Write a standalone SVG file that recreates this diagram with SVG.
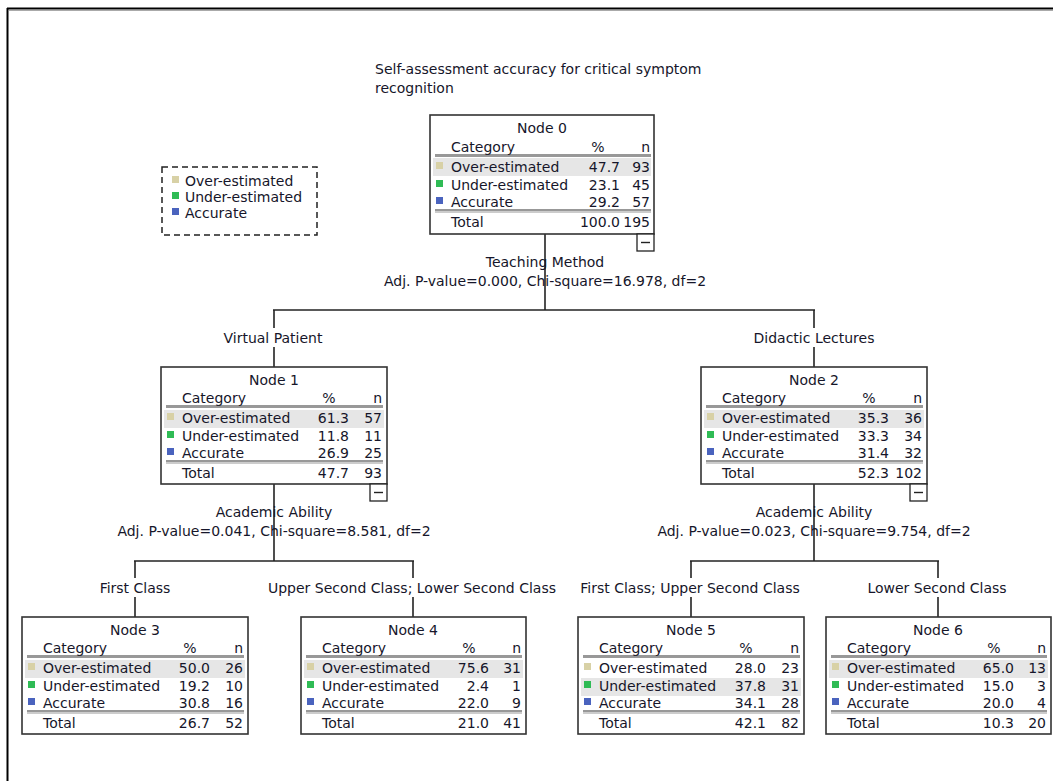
<svg xmlns="http://www.w3.org/2000/svg" width="1053" height="781" viewBox="0 0 1053 781">
<defs>
<style>
text{font-family:"DejaVu Sans","Liberation Sans",sans-serif;font-size:14px;fill:#16162a}
.box{fill:#fff;stroke:#333;stroke-width:1.6}
.hl{fill:#e6e6e6}
.hdr{stroke:#333;stroke-width:1.2}
.hdr2{stroke:#999;stroke-width:1}
.c{text-anchor:middle}
.r{text-anchor:end}
.ov{fill:#d8d1a6}
.un{fill:#2fbb55}
.ac{fill:#4a63be}
.con{stroke:#222;stroke-width:1.6;fill:none}
.lbg{fill:#fff}
.minus{fill:#fff;stroke:#222;stroke-width:1.3}
</style>
</defs>
<g id="frame">
<line x1="7" y1="8.5" x2="1053" y2="8.5" stroke="#000" stroke-width="2"/>
<line x1="9" y1="10.5" x2="1053" y2="10.5" stroke="#aaa" stroke-width="1"/>
<line x1="7.5" y1="8" x2="7.5" y2="781" stroke="#000" stroke-width="2"/>
</g>
<g id="title">
<text x="375" y="74">Self-assessment accuracy for critical symptom</text>
<text x="375" y="93">recognition</text>
</g>
<g id="legend">
<rect x="162" y="167" width="155" height="68" fill="#fff" stroke="#222" stroke-width="1.5" stroke-dasharray="6,4"/>
<rect class="ov" x="172" y="176" width="7" height="7"/><text x="185" y="186">Over-estimated</text>
<rect class="un" x="172" y="192" width="7" height="7"/><text x="185" y="202">Under-estimated</text>
<rect class="ac" x="172" y="208" width="7" height="7"/><text x="185" y="218">Accurate</text>
</g>
<g id="connectors">
<line class="con" x1="545" y1="234" x2="545" y2="310"/>
<line class="con" x1="273" y1="310" x2="815" y2="310"/>
<line class="con" x1="274" y1="310" x2="274" y2="367"/>
<line class="con" x1="814" y1="310" x2="814" y2="367"/>
<line class="con" x1="274" y1="484" x2="274" y2="561"/>
<line class="con" x1="134" y1="561" x2="414" y2="561"/>
<line class="con" x1="135" y1="561" x2="135" y2="617"/>
<line class="con" x1="413" y1="561" x2="413" y2="617"/>
<line class="con" x1="814" y1="484" x2="814" y2="561"/>
<line class="con" x1="690" y1="561" x2="939" y2="561"/>
<line class="con" x1="691" y1="561" x2="691" y2="617"/>
<line class="con" x1="938" y1="561" x2="938" y2="617"/>
<text class="c" x="545" y="267">Teaching Method</text>
<text class="c" x="545" y="286">Adj. P-value=0.000, Chi-square=16.978, df=2</text>
<rect class="lbg" x="218" y="328" width="110" height="19"/>
<text class="c" x="273" y="343">Virtual Patient</text>
<rect class="lbg" x="751" y="328" width="127" height="19"/>
<text class="c" x="814" y="343">Didactic Lectures</text>
<text class="c" x="274" y="517">Academic Ability</text>
<text class="c" x="274" y="536">Adj. P-value=0.041, Chi-square=8.581, df=2</text>
<text class="c" x="814" y="517">Academic Ability</text>
<text class="c" x="814" y="536">Adj. P-value=0.023, Chi-square=9.754, df=2</text>
<rect class="lbg" x="95" y="578" width="80" height="19"/>
<text class="c" x="135" y="593">First Class</text>
<rect class="lbg" x="266" y="578" width="292" height="19"/>
<text class="c" x="412" y="593">Upper Second Class; Lower Second Class</text>
<rect class="lbg" x="577" y="578" width="226" height="19"/>
<text class="c" x="690" y="593">First Class; Upper Second Class</text>
<rect class="lbg" x="865" y="578" width="145" height="19"/>
<text class="c" x="937" y="593">Lower Second Class</text>
</g>
<g id="node0" transform="translate(430,115)">
<rect class="box" x="0" y="0" width="224" height="119"/>
<rect class="hl" x="3" y="43" width="218" height="18"/>
<text class="c" x="112" y="18">Node 0</text>
<text x="21" y="37">Category</text><text class="c" x="168" y="37">%</text><text class="r" x="220" y="37">n</text>
<line class="hdr" x1="5" y1="40" x2="221" y2="40"/><line class="hdr2" x1="5" y1="41.5" x2="221" y2="41.5"/>
<rect class="ov" x="6" y="47" width="7" height="7"/><text x="21" y="57">Over-estimated</text><text class="r" x="190" y="57">47.7</text><text class="r" x="220" y="57">93</text>
<rect class="un" x="6" y="65" width="7" height="7"/><text x="21" y="75">Under-estimated</text><text class="r" x="190" y="75">23.1</text><text class="r" x="220" y="75">45</text>
<rect class="ac" x="6" y="82" width="7" height="7"/><text x="21" y="92">Accurate</text><text class="r" x="190" y="92">29.2</text><text class="r" x="220" y="92">57</text>
<line class="hdr" x1="5" y1="95" x2="221" y2="95"/><line class="hdr2" x1="5" y1="97" x2="221" y2="97"/>
<text x="21" y="112">Total</text><text class="r" x="190" y="112">100.0</text><text class="r" x="220" y="112">195</text>
<rect class="minus" x="207" y="119" width="17" height="17"/><line x1="211" y1="127.5" x2="220" y2="127.5" stroke="#222" stroke-width="1.4"/>
</g>
<g id="node1" transform="translate(161,367)">
<rect class="box" x="0" y="0" width="226" height="117"/>
<rect class="hl" x="3" y="43" width="220" height="18"/>
<text class="c" x="113" y="18">Node 1</text>
<text x="21" y="36">Category</text><text class="c" x="168" y="36">%</text><text class="r" x="221" y="36">n</text>
<line class="hdr" x1="5" y1="39" x2="222" y2="39"/><line class="hdr2" x1="5" y1="40.5" x2="222" y2="40.5"/>
<rect class="ov" x="6" y="46" width="7" height="7"/><text x="21" y="56">Over-estimated</text><text class="r" x="188" y="56">61.3</text><text class="r" x="221" y="56">57</text>
<rect class="un" x="6" y="64" width="7" height="7"/><text x="21" y="74">Under-estimated</text><text class="r" x="188" y="74">11.8</text><text class="r" x="221" y="74">11</text>
<rect class="ac" x="6" y="81" width="7" height="7"/><text x="21" y="91">Accurate</text><text class="r" x="188" y="91">26.9</text><text class="r" x="221" y="91">25</text>
<line class="hdr" x1="5" y1="94" x2="222" y2="94"/><line class="hdr2" x1="5" y1="96" x2="222" y2="96"/>
<text x="21" y="111">Total</text><text class="r" x="188" y="111">47.7</text><text class="r" x="221" y="111">93</text>
<rect class="minus" x="209" y="117" width="17" height="17"/><line x1="213" y1="125.5" x2="222" y2="125.5" stroke="#222" stroke-width="1.4"/>
</g>
<g id="node2" transform="translate(701,367)">
<rect class="box" x="0" y="0" width="226" height="117"/>
<rect class="hl" x="3" y="43" width="220" height="18"/>
<text class="c" x="113" y="18">Node 2</text>
<text x="21" y="36">Category</text><text class="c" x="168" y="36">%</text><text class="r" x="221" y="36">n</text>
<line class="hdr" x1="5" y1="39" x2="222" y2="39"/><line class="hdr2" x1="5" y1="40.5" x2="222" y2="40.5"/>
<rect class="ov" x="6" y="46" width="7" height="7"/><text x="21" y="56">Over-estimated</text><text class="r" x="188" y="56">35.3</text><text class="r" x="221" y="56">36</text>
<rect class="un" x="6" y="64" width="7" height="7"/><text x="21" y="74">Under-estimated</text><text class="r" x="188" y="74">33.3</text><text class="r" x="221" y="74">34</text>
<rect class="ac" x="6" y="81" width="7" height="7"/><text x="21" y="91">Accurate</text><text class="r" x="188" y="91">31.4</text><text class="r" x="221" y="91">32</text>
<line class="hdr" x1="5" y1="94" x2="222" y2="94"/><line class="hdr2" x1="5" y1="96" x2="222" y2="96"/>
<text x="21" y="111">Total</text><text class="r" x="188" y="111">52.3</text><text class="r" x="221" y="111">102</text>
<rect class="minus" x="209" y="117" width="17" height="17"/><line x1="213" y1="125.5" x2="222" y2="125.5" stroke="#222" stroke-width="1.4"/>
</g>
<g id="node3" transform="translate(22,617)">
<rect class="box" x="0" y="0" width="226" height="117"/>
<rect class="hl" x="3" y="43" width="220" height="18"/>
<text class="c" x="113" y="18">Node 3</text>
<text x="21" y="36">Category</text><text class="c" x="168" y="36">%</text><text class="r" x="221" y="36">n</text>
<line class="hdr" x1="5" y1="39" x2="222" y2="39"/><line class="hdr2" x1="5" y1="40.5" x2="222" y2="40.5"/>
<rect class="ov" x="6" y="46" width="7" height="7"/><text x="21" y="56">Over-estimated</text><text class="r" x="188" y="56">50.0</text><text class="r" x="221" y="56">26</text>
<rect class="un" x="6" y="64" width="7" height="7"/><text x="21" y="74">Under-estimated</text><text class="r" x="188" y="74">19.2</text><text class="r" x="221" y="74">10</text>
<rect class="ac" x="6" y="81" width="7" height="7"/><text x="21" y="91">Accurate</text><text class="r" x="188" y="91">30.8</text><text class="r" x="221" y="91">16</text>
<line class="hdr" x1="5" y1="94" x2="222" y2="94"/><line class="hdr2" x1="5" y1="96" x2="222" y2="96"/>
<text x="21" y="111">Total</text><text class="r" x="188" y="111">26.7</text><text class="r" x="221" y="111">52</text>
</g>
<g id="node4" transform="translate(301,617)">
<rect class="box" x="0" y="0" width="225" height="117"/>
<rect class="hl" x="3" y="43" width="219" height="18"/>
<text class="c" x="112" y="18">Node 4</text>
<text x="21" y="36">Category</text><text class="c" x="168" y="36">%</text><text class="r" x="220" y="36">n</text>
<line class="hdr" x1="5" y1="39" x2="221" y2="39"/><line class="hdr2" x1="5" y1="40.5" x2="221" y2="40.5"/>
<rect class="ov" x="6" y="46" width="7" height="7"/><text x="21" y="56">Over-estimated</text><text class="r" x="188" y="56">75.6</text><text class="r" x="220" y="56">31</text>
<rect class="un" x="6" y="64" width="7" height="7"/><text x="21" y="74">Under-estimated</text><text class="r" x="188" y="74">2.4</text><text class="r" x="220" y="74">1</text>
<rect class="ac" x="6" y="81" width="7" height="7"/><text x="21" y="91">Accurate</text><text class="r" x="188" y="91">22.0</text><text class="r" x="220" y="91">9</text>
<line class="hdr" x1="5" y1="94" x2="221" y2="94"/><line class="hdr2" x1="5" y1="96" x2="221" y2="96"/>
<text x="21" y="111">Total</text><text class="r" x="188" y="111">21.0</text><text class="r" x="220" y="111">41</text>
</g>
<g id="node5" transform="translate(578,617)">
<rect class="box" x="0" y="0" width="226" height="117"/>
<rect class="hl" x="3" y="61" width="220" height="18"/>
<text class="c" x="113" y="18">Node 5</text>
<text x="21" y="36">Category</text><text class="c" x="168" y="36">%</text><text class="r" x="221" y="36">n</text>
<line class="hdr" x1="5" y1="39" x2="222" y2="39"/><line class="hdr2" x1="5" y1="40.5" x2="222" y2="40.5"/>
<rect class="ov" x="6" y="46" width="7" height="7"/><text x="21" y="56">Over-estimated</text><text class="r" x="188" y="56">28.0</text><text class="r" x="221" y="56">23</text>
<rect class="un" x="6" y="64" width="7" height="7"/><text x="21" y="74">Under-estimated</text><text class="r" x="188" y="74">37.8</text><text class="r" x="221" y="74">31</text>
<rect class="ac" x="6" y="81" width="7" height="7"/><text x="21" y="91">Accurate</text><text class="r" x="188" y="91">34.1</text><text class="r" x="221" y="91">28</text>
<line class="hdr" x1="5" y1="94" x2="222" y2="94"/><line class="hdr2" x1="5" y1="96" x2="222" y2="96"/>
<text x="21" y="111">Total</text><text class="r" x="188" y="111">42.1</text><text class="r" x="221" y="111">82</text>
</g>
<g id="node6" transform="translate(826,617)">
<rect class="box" x="0" y="0" width="225" height="117"/>
<rect class="hl" x="3" y="43" width="219" height="18"/>
<text class="c" x="112" y="18">Node 6</text>
<text x="21" y="36">Category</text><text class="c" x="168" y="36">%</text><text class="r" x="220" y="36">n</text>
<line class="hdr" x1="5" y1="39" x2="221" y2="39"/><line class="hdr2" x1="5" y1="40.5" x2="221" y2="40.5"/>
<rect class="ov" x="6" y="46" width="7" height="7"/><text x="21" y="56">Over-estimated</text><text class="r" x="188" y="56">65.0</text><text class="r" x="220" y="56">13</text>
<rect class="un" x="6" y="64" width="7" height="7"/><text x="21" y="74">Under-estimated</text><text class="r" x="188" y="74">15.0</text><text class="r" x="220" y="74">3</text>
<rect class="ac" x="6" y="81" width="7" height="7"/><text x="21" y="91">Accurate</text><text class="r" x="188" y="91">20.0</text><text class="r" x="220" y="91">4</text>
<line class="hdr" x1="5" y1="94" x2="221" y2="94"/><line class="hdr2" x1="5" y1="96" x2="221" y2="96"/>
<text x="21" y="111">Total</text><text class="r" x="188" y="111">10.3</text><text class="r" x="220" y="111">20</text>
</g>
</svg>
